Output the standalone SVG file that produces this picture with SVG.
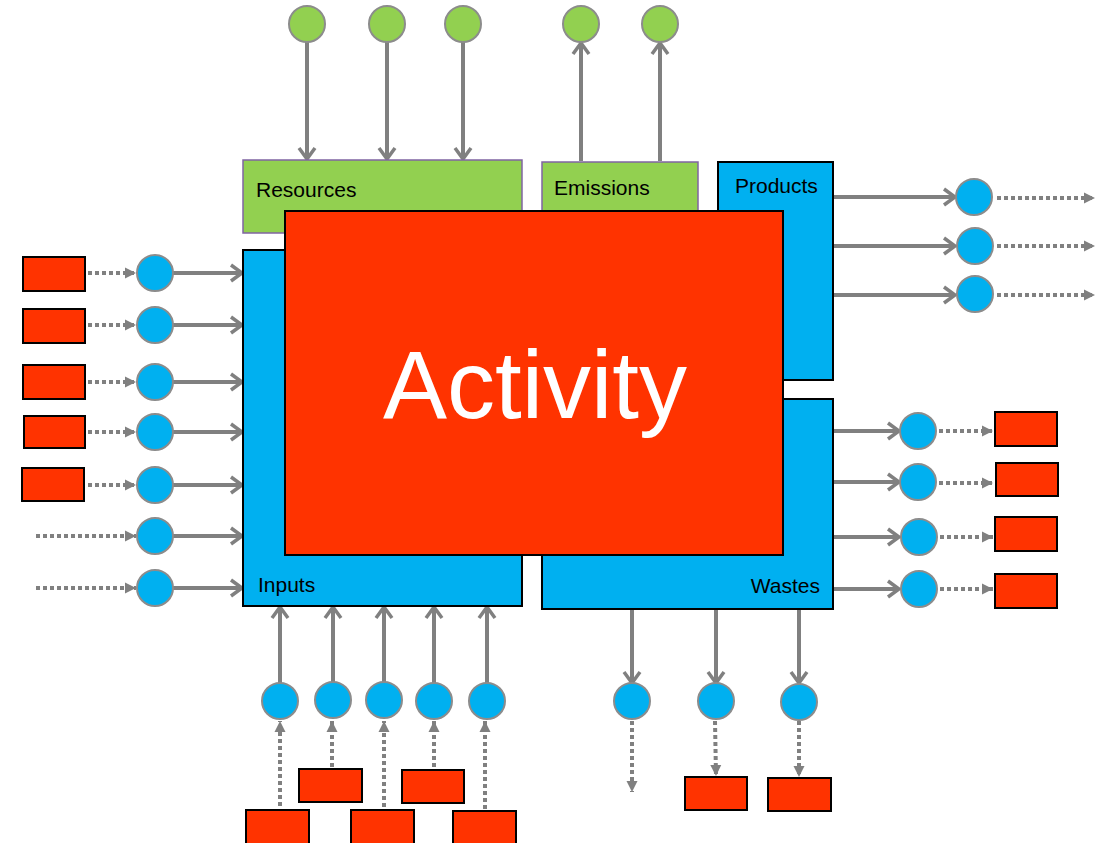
<svg xmlns="http://www.w3.org/2000/svg" width="1104" height="843" viewBox="0 0 1104 843">
<style>
.blue{fill:#00B0F0;stroke:#000;stroke-width:2}
.green{fill:#92D050;stroke:#8064A2;stroke-width:1.5}
.red{fill:#FF3300;stroke:#000;stroke-width:2}
.cb{fill:#00B0F0;stroke:#8C8C8C;stroke-width:2}
.cg{fill:#92D050;stroke:#8C8C8C;stroke-width:2}
.sol{stroke:#808080;stroke-width:4;fill:none;marker-end:url(#open)}
.dot{stroke:#808080;stroke-width:4;stroke-dasharray:4 3;fill:none;marker-end:url(#tri)}
.lbl{font-family:"Liberation Sans",Arial,sans-serif;font-size:21px;fill:#000}
.big{font-family:"Liberation Sans",Arial,sans-serif;font-size:96px;fill:#fff}
</style>
<defs>
<marker id="open" viewBox="0 0 20 20" refX="16" refY="10" markerWidth="20" markerHeight="20" markerUnits="userSpaceOnUse" orient="auto">
<path d="M5,2 L16,10 L5,18" fill="none" stroke="#808080" stroke-width="3.5"/>
</marker>
<marker id="tri" viewBox="0 0 12 12" refX="11" refY="6" markerWidth="12" markerHeight="12" markerUnits="userSpaceOnUse" orient="auto">
<path d="M0,0.5 L11,6 L0,11.5 z" fill="#808080"/>
</marker>
</defs>
<rect width="1104" height="843" fill="#fff"/>

<g id="connectors">
<!-- resources in -->
<line class="sol" x1="307" y1="42" x2="307" y2="159"/>
<line class="sol" x1="387" y1="42" x2="387" y2="159"/>
<line class="sol" x1="463" y1="42" x2="463" y2="159"/>
<!-- emissions out -->
<line class="sol" x1="581" y1="161" x2="581" y2="43"/>
<line class="sol" x1="660" y1="161" x2="660" y2="43"/>
<!-- left inputs -->
<line class="dot" x1="88" y1="273" x2="136" y2="273"/>
<line class="dot" x1="88" y1="325" x2="136" y2="325"/>
<line class="dot" x1="88" y1="382" x2="136" y2="382"/>
<line class="dot" x1="88" y1="432" x2="136" y2="432"/>
<line class="dot" x1="88" y1="485" x2="136" y2="485"/>
<line class="dot" x1="36" y1="536" x2="136" y2="536"/>
<line class="dot" x1="36" y1="588" x2="136" y2="588"/>
<line class="sol" x1="173" y1="273" x2="242" y2="273"/>
<line class="sol" x1="173" y1="325" x2="242" y2="325"/>
<line class="sol" x1="173" y1="382" x2="242" y2="382"/>
<line class="sol" x1="173" y1="432" x2="242" y2="432"/>
<line class="sol" x1="173" y1="485" x2="242" y2="485"/>
<line class="sol" x1="173" y1="536" x2="242" y2="536"/>
<line class="sol" x1="173" y1="588" x2="242" y2="588"/>
<!-- products out -->
<line class="sol" x1="834" y1="197" x2="955" y2="197"/>
<line class="sol" x1="834" y1="246" x2="955" y2="246"/>
<line class="sol" x1="834" y1="295" x2="955" y2="295"/>
<line class="dot" x1="997" y1="198" x2="1095" y2="198"/>
<line class="dot" x1="997" y1="246" x2="1095" y2="246"/>
<line class="dot" x1="997" y1="295" x2="1095" y2="295"/>
<!-- wastes right -->
<line class="sol" x1="834" y1="431" x2="899" y2="431"/>
<line class="sol" x1="834" y1="482" x2="899" y2="482"/>
<line class="sol" x1="834" y1="537" x2="899" y2="537"/>
<line class="sol" x1="834" y1="589" x2="899" y2="589"/>
<line class="dot" x1="939" y1="431" x2="993" y2="431"/>
<line class="dot" x1="939" y1="483" x2="993" y2="483"/>
<line class="dot" x1="940" y1="537" x2="993" y2="537"/>
<line class="dot" x1="940" y1="589" x2="993" y2="589"/>
<!-- bottom inputs -->
<line class="sol" x1="280" y1="683" x2="280" y2="607"/>
<line class="sol" x1="333" y1="683" x2="333" y2="607"/>
<line class="sol" x1="384" y1="683" x2="384" y2="607"/>
<line class="sol" x1="434" y1="683" x2="434" y2="607"/>
<line class="sol" x1="487" y1="683" x2="487" y2="607"/>
<line class="dot" x1="280" y1="806" x2="280" y2="721"/>
<line class="dot" x1="332" y1="767" x2="332" y2="721"/>
<line class="dot" x1="384" y1="807" x2="384" y2="721"/>
<line class="dot" x1="434" y1="767" x2="434" y2="721"/>
<line class="dot" x1="485" y1="809" x2="485" y2="721"/>
<!-- bottom wastes -->
<line class="sol" x1="632" y1="610" x2="632" y2="683"/>
<line class="sol" x1="716" y1="610" x2="716" y2="683"/>
<line class="sol" x1="799" y1="610" x2="799" y2="683"/>
<line class="dot" x1="632" y1="721" x2="632" y2="792"/>
<line class="dot" x1="715" y1="721" x2="716" y2="776"/>
<line class="dot" x1="799" y1="721" x2="799" y2="777"/>
</g>

<g id="resources"><rect class="green" x="243" y="160" width="279" height="73"/><text class="lbl" x="256" y="197">Resources</text></g>
<g id="emissions"><rect class="green" x="542" y="162" width="156" height="70"/><text class="lbl" x="554" y="195">Emissions</text></g>
<g id="products"><rect class="blue" x="718" y="162" width="115" height="218"/><text class="lbl" x="735" y="193">Products</text></g>
<g id="inputs"><rect class="blue" x="243" y="250" width="279" height="356"/><text class="lbl" x="258" y="592">Inputs</text></g>
<g id="wastes"><rect class="blue" x="542" y="399" width="291" height="210"/><text class="lbl" x="820" y="593" text-anchor="end">Wastes</text></g>
<g id="activity"><rect class="red" x="285" y="211" width="498" height="344"/><text class="big" x="535" y="418" text-anchor="middle">Activity</text></g>

<g id="top-circles">
<circle class="cg" cx="307" cy="24" r="18"/>
<circle class="cg" cx="387" cy="24" r="18"/>
<circle class="cg" cx="463" cy="24" r="18"/>
<circle class="cg" cx="581" cy="24" r="18"/>
<circle class="cg" cx="660" cy="24" r="18"/>
</g>
<g id="left-flows">
<circle class="cb" cx="155" cy="273" r="18"/>
<circle class="cb" cx="155" cy="325" r="18"/>
<circle class="cb" cx="155" cy="382" r="18"/>
<circle class="cb" cx="155" cy="432" r="18"/>
<circle class="cb" cx="155" cy="485" r="18"/>
<circle class="cb" cx="155" cy="536" r="18"/>
<circle class="cb" cx="155" cy="588" r="18"/>
<rect class="red" x="23" y="257" width="62" height="34"/>
<rect class="red" x="23" y="309" width="62" height="34"/>
<rect class="red" x="23" y="365" width="62" height="34"/>
<rect class="red" x="24" y="416" width="61" height="32"/>
<rect class="red" x="22" y="468" width="62" height="33"/>
</g>
<g id="product-flows">
<circle class="cb" cx="974" cy="197" r="18"/>
<circle class="cb" cx="975" cy="246" r="18"/>
<circle class="cb" cx="975" cy="294" r="18"/>
</g>
<g id="waste-right-flows">
<circle class="cb" cx="918" cy="431" r="18"/>
<circle class="cb" cx="918" cy="482" r="18"/>
<circle class="cb" cx="919" cy="537" r="18"/>
<circle class="cb" cx="919" cy="589" r="18"/>
<rect class="red" x="995" y="412" width="62" height="34"/>
<rect class="red" x="996" y="463" width="62" height="33"/>
<rect class="red" x="995" y="517" width="62" height="34"/>
<rect class="red" x="995" y="574" width="62" height="34"/>
</g>
<g id="input-bottom-flows">
<circle class="cb" cx="280" cy="701" r="18"/>
<circle class="cb" cx="333" cy="700" r="18"/>
<circle class="cb" cx="384" cy="700" r="18"/>
<circle class="cb" cx="434" cy="701" r="18"/>
<circle class="cb" cx="487" cy="701" r="18"/>
<rect class="red" x="299" y="769" width="63" height="33"/>
<rect class="red" x="402" y="770" width="62" height="33"/>
<rect class="red" x="246" y="810" width="63" height="40"/>
<rect class="red" x="351" y="810" width="63" height="40"/>
<rect class="red" x="453" y="811" width="63" height="40"/>
</g>
<g id="waste-bottom-flows">
<circle class="cb" cx="632" cy="701" r="18"/>
<circle class="cb" cx="716" cy="701" r="18"/>
<circle class="cb" cx="799" cy="702" r="18"/>
<rect class="red" x="685" y="777" width="62" height="33"/>
<rect class="red" x="768" y="778" width="63" height="33"/>
</g>
</svg>
